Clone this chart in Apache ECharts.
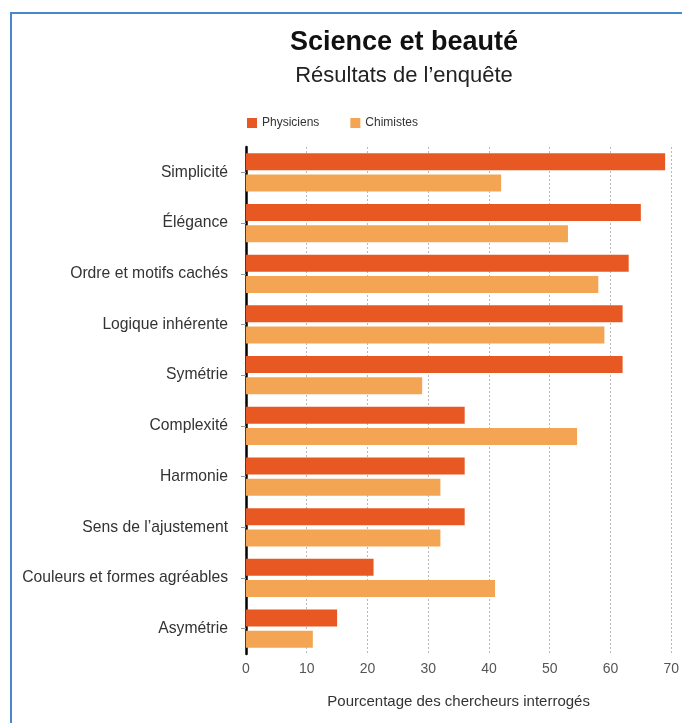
<!DOCTYPE html>
<html>
<head>
<meta charset="utf-8">
<script src="https://cdn.jsdelivr.net/npm/echarts@6/dist/echarts.min.js"></script>
<style>
  html, body { margin: 0; padding: 0; background: #fff; }
  #chart { width: 682px; height: 723px; }
</style>
</head>
<body>
<div id="chart"></div>
<script>
let categories = ['Simplicité', 'Élégance', 'Ordre et motifs cachés', 'Logique inhérente', 'Symétrie',
  'Complexité', 'Harmonie', 'Sens de l\u2019ajustement', 'Couleurs et formes agréables', 'Asymétrie'];
let physiciens = [69, 65, 63, 62, 62, 36, 36, 36, 21, 15];
let chimistes = [42, 53, 58, 59, 29, 54.5, 32, 32, 41, 11];
let xTicks = [0, 10, 20, 30, 40, 50, 60, 70];

let font = 'Liberation Sans, Arial, sans-serif';
let chart = echarts.init(document.getElementById('chart'));

let option = {
  backgroundColor: '#fff',
  animation: false,
  title: {
    text: 'Science et beauté',
    subtext: 'Résultats de l\u2019enquête',
    left: 399,
    top: 24,
    textAlign: 'center',
    itemGap: 9,
    textStyle: { fontFamily: font, fontSize: 27, fontWeight: 'bold', color: '#111' },
    subtextStyle: { fontFamily: font, fontSize: 22, color: '#222' }
  },
  legend: {
    left: 242,
    top: 112,
    itemWidth: 10,
    itemHeight: 10,
    itemGap: 31,
    icon: 'rect',
    textStyle: { fontFamily: font, fontSize: 12, color: '#333' },
    data: ['Physiciens', 'Chimistes']
  },
  grid: { left: 246, right: 9, top: 147, bottom: 69, containLabel: false },
  xAxis: {
    type: 'value',
    min: xTicks[0],
    max: xTicks[xTicks.length - 1],
    interval: 10,
    name: 'Pourcentage des chercheurs interrogés',
    nameLocation: 'middle',
    nameGap: 40,
    nameTextStyle: { fontFamily: font, fontSize: 15, color: '#333' },
    axisLine: { show: false },
    axisTick: { show: false },
    axisLabel: { fontFamily: font, fontSize: 14, color: '#555', margin: 8 },
    splitLine: { show: true, lineStyle: { color: '#b8b8b8', type: [2, 2], width: 1 } }
  },
  yAxis: {
    type: 'category',
    inverse: true,
    data: categories,
    axisLine: { show: true, lineStyle: { color: '#000', width: 2.5 } },
    axisTick: { show: true, length: 5, alignWithLabel: true, lineStyle: { color: '#999' } },
    axisLabel: { fontFamily: font, fontSize: 15.7, color: '#333', margin: 18 },
    splitLine: { show: false }
  },
  series: [
    {
      name: 'Physiciens',
      type: 'bar',
      data: physiciens,
      barWidth: 17,
      barGap: '25%',
      itemStyle: { color: '#E85823' }
    },
    {
      name: 'Chimistes',
      type: 'bar',
      data: chimistes,
      barWidth: 17,
      itemStyle: { color: '#F3A553' }
    }
  ],
  graphic: [
    {
      type: 'polyline',
      shape: { points: [[11, 723], [11, 13], [682, 13]] },
      style: { stroke: '#4A88CC', lineWidth: 2, fill: null },
      silent: true
    }
  ]
};

chart.setOption(option);
</script>
</body>
</html>
